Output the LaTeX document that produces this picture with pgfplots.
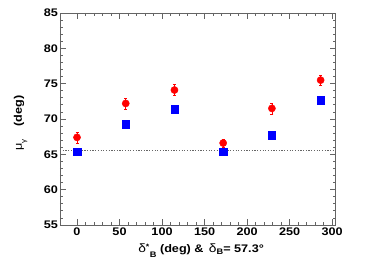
\documentclass[border=0pt]{standalone}
\usepackage{fontspec}
\setmainfont{Liberation Sans}[FakeStretch=1.15]
\usepackage{pgfplots}
\pgfplotsset{compat=1.18}
\definecolor{axgray}{RGB}{100,100,100}
\begin{document}
\begin{tikzpicture}[x=1pt,y=1pt]
\useasboundingbox (-60pt,-43pt) rectangle (314pt,225pt);
\begin{axis}[
  at={(0pt,0pt)}, anchor=south west,
  scale only axis, width=275.5pt, height=212pt,
  xmin=-20, xmax=304, ymin=55, ymax=85,
  xtick={0,50,...,300}, ytick={55,60,...,85},
  minor x tick num=4, minor y tick num=4,
  tick align=inside, ticks=both,
  major tick length=6pt, minor tick length=3pt,
  axis line style={axgray, line width=0.9pt},
  every tick/.style={axgray, line width=0.8pt},
  tick label style={font=\bfseries\fontsize{11}{13}\selectfont, text=black},
  /pgf/number format/assume math mode=true,
  xticklabel style={yshift=1pt},
  yticklabel style={xshift=1.5pt},
  xlabel={\bfseries\fontsize{11}{13}\selectfont {\mdseries\fontsize{12}{13}\selectfont δ}\textsuperscript{*}\raisebox{-5pt}{\fontsize{8}{9}\selectfont B} (deg) \& \,{\mdseries\fontsize{12}{13}\selectfont δ}\raisebox{-2pt}{\fontsize{8}{9}\selectfont B}= 57.3°},
  ylabel={\bfseries\fontsize{11}{13}\selectfont {\mdseries μ}\raisebox{-4pt}{\fontsize{7}{8}\selectfont\mdseries γ}\hspace{13pt}(deg)},
  xlabel style={at={(axis description cs:0.512,-0.132)}, anchor=base},
  ylabel style={at={(axis description cs:-0.138,0.48)}, anchor=base},
  clip=false,
]
\addplot[black!60, dash pattern=on 1.2pt off 1.5pt, line width=0.6pt, forget plot] coordinates {(-20,65.6) (304,65.6)};
\addplot[only marks, mark=square*, mark size=3.7pt, color=blue, mark options={fill=blue}] coordinates {
(0,65.4) (57.3,69.25) (114.6,71.4) (171.9,65.4) (229.2,67.7) (286.5,72.65)};
\addplot[only marks, mark=*, mark size=3.6pt, color=red, mark options={fill=red},
  error bars/.cd, y dir=both, y explicit, error bar style={red, line width=0.8pt},
  error mark options={rotate=90, red, mark size=1.5pt}] coordinates {
(0,67.4) +- (0,0.8)
(57.3,72.2) +- (0,0.8)
(114.6,74.1) +- (0,0.8)
(171.9,66.6) +- (0,0.6)
(229.2,71.5) +- (0,0.8)
(286.5,75.5) +- (0,0.75)};
\end{axis}
\end{tikzpicture}
\end{document}
